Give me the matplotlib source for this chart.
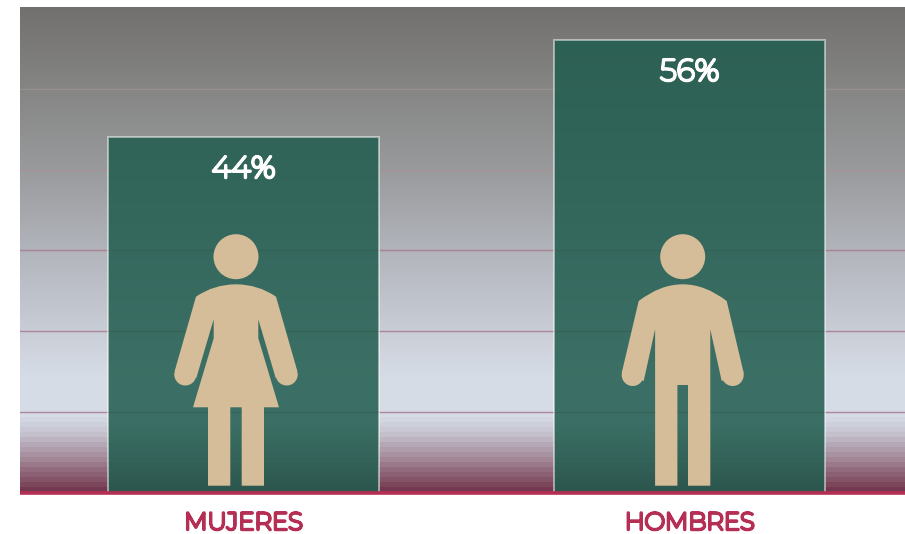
import numpy as np
import matplotlib
matplotlib.use('Agg')
import matplotlib.pyplot as plt
import matplotlib.patheffects as pe
from matplotlib.colors import to_rgb, to_rgba
from matplotlib.patches import Circle, PathPatch
from matplotlib.path import Path
from matplotlib.transforms import Affine2D

categories = ['MUJERES', 'HOMBRES']
percent_values = [44, 56]
y_ticks = [0, 10, 20, 30, 40, 50]
grid_colors = ['#a8788f', '#a8788f', '#a8788f', '#a8788f', '#a89298', '#9a9291']

W, H = 905, 534
RED = '#b52f55'
SAND = '#d5bd99'
GREEN = '#205c4e'

# background stops: fraction from top of the plot area, colour
bg_stops = [(0.0, '#72716f'), (0.167, '#858584'), (0.333, '#999a9c'),
            (0.5, '#b1b4bb'), (0.667, '#c9cdd6'), (0.76, '#d6dce6'),
            (0.835, '#d6dce6'), (0.87, '#c6c4d0'), (0.92, '#a68e9d'),
            (1.0, '#6c2a42')]


def background():
    rows = 486
    pos = np.arange(rows) / (rows - 1)
    pos = np.where(pos > 0.84, np.floor(pos * rows / 5) * 5 / rows, pos)  # banded at the foot
    xs = [s[0] for s in bg_stops]
    cols = np.array([to_rgb(s[1]) for s in bg_stops])
    img = np.stack([np.interp(pos, xs, cols[:, i]) for i in range(3)], axis=1)
    return img[:, None, :]


def figure_icon(ax, trans, cx, shoulder, side, legs):
    # outlines are in picture pixels, right half given and mirrored round cx
    ctrl, end = shoulder
    half = side + legs
    mirror = [(2 * cx - px, py) for px, py in half[::-1]]
    verts = [(cx, 284.3), ctrl, end] + half + mirror
    verts += [(2 * cx - end[0], end[1]), (2 * cx - ctrl[0], ctrl[1]), (cx, 284.3)]
    codes = [Path.MOVETO, Path.CURVE3, Path.CURVE3] + [Path.LINETO] * (len(half) * 2 + 1)
    codes += [Path.CURVE3, Path.CURVE3]
    ax.add_patch(PathPatch(Path(verts, codes), fc=SAND, ec='none', transform=trans, zorder=5))


def main():
    plt.rcParams['font.family'] = ['Montserrat', 'Inter', 'DejaVu Sans']
    fig = plt.figure(figsize=(W / 100, H / 100), dpi=100)
    ax = fig.add_axes([20 / W, (H - 493) / H, 885 / W, 486 / H])

    xlim = (-0.501, 1.483)
    ylim = (0, 60.1)
    ax.imshow(background(), extent=[xlim[0], xlim[1], ylim[0], ylim[1]],
              aspect='auto', zorder=0, interpolation='nearest')
    ax.set_xlim(xlim)
    ax.set_ylim(ylim)

    x = np.arange(len(categories))
    ax.bar(x, percent_values, width=0.608, color=to_rgba(GREEN, 0.85),
           edgecolor=(1, 1, 1, 0.5), linewidth=1.4, zorder=2)

    ax.set_yticks(y_ticks)
    ax.set_yticklabels([])
    ax.grid(axis='y', linewidth=1.0, alpha=0.85)
    for line, c in zip(ax.get_ygridlines(), grid_colors):
        line.set_color(c)
    ax.set_axisbelow(True)
    ax.tick_params(axis='y', length=0)

    # the installed Montserrat only comes in a light cut, so fatten it with a stroke
    ax.set_xticks(x)
    ax.set_xticklabels(categories, fontsize=17.5, fontweight='bold', color=RED)
    ax.tick_params(axis='x', length=0, pad=13.5)
    for lab in ax.get_xticklabels():
        lab.set_path_effects([pe.withStroke(linewidth=2.1, foreground=RED)])

    for s in ['top', 'left', 'right']:
        ax.spines[s].set_visible(False)
    ax.spines['bottom'].set_color(RED)
    ax.spines['bottom'].set_linewidth(2.6)
    ax.spines['bottom'].set_capstyle('butt')
    ax.spines['bottom'].set_zorder(6)

    for xi, v in zip(x, percent_values):
        t = ax.annotate(f'{v}%', (xi, v), xytext=(0, -23.5), textcoords='offset points',
                        ha='center', va='center', color='white', fontsize=22,
                        fontweight='bold', zorder=6)
        t.set_path_effects([pe.withStroke(linewidth=2.0, foreground='white')])

    # pictograms, picture pixel coordinates with y going down
    trans = Affine2D().scale(1, -1).translate(0, H)

    # woman
    cx = 236
    ax.add_patch(Circle((cx, 256.7), 22.5, fc=SAND, ec='none', transform=trans, zorder=5))
    figure_icon(ax, trans, cx, ((258, 284.3), (276, 296.7)),
                [(297.3, 371), (275.7, 378), (258.3, 319.3), (258.3, 338.3), (279, 407.3)],
                [(264, 407.3), (264, 485.7), (241.7, 485.7), (241.7, 407.3), (236, 407.3)])
    for hx in [286.7, 2 * cx - 286.7]:
        ax.add_patch(Circle((hx, 374.5), 11, fc=SAND, ec='none', transform=trans, zorder=5))

    # man
    cx = 682.7
    ax.add_patch(Circle((cx, 256.7), 22.5, fc=SAND, ec='none', transform=trans, zorder=5))
    figure_icon(ax, trans, cx, ((705, 284.3), (726.7, 301)),
                [(743.7, 373), (721.7, 381), (710.3, 329.3)],
                [(710.3, 485.7), (688, 485.7), (688, 385), (cx, 385)])
    for hx in [732.7, 2 * cx - 732.7]:
        ax.add_patch(Circle((hx, 375), 11, fc=SAND, ec='none', transform=trans, zorder=5))

    fig.savefig('out.png', dpi=100)


if __name__ == "__main__":
    main()
